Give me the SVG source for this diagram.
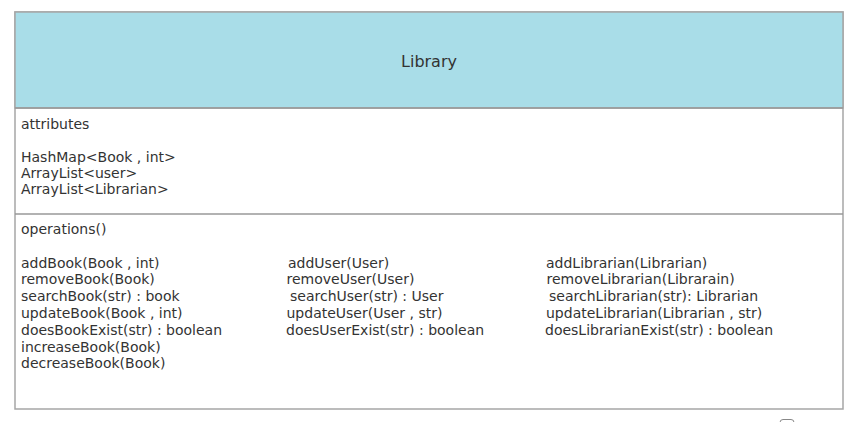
<svg xmlns="http://www.w3.org/2000/svg" width="854" height="422" viewBox="0 0 854 422">
<style>
.t{font-family:"DejaVu Sans","Liberation Sans",sans-serif;font-size:14px;fill:#333;}
.title{font-family:"DejaVu Sans","Liberation Sans",sans-serif;font-size:16px;fill:#333;}
.box{fill:#fff;stroke:#a6a6a6;stroke-width:1.5;}
.div{stroke:#999;stroke-width:1.5;}
</style>
<rect width="854" height="422" fill="#fff"/>
<g id="Library">
<rect class="box" x="15" y="12" width="828" height="397"/>
<rect x="15" y="12" width="828" height="96" fill="#a9dde8" stroke="#a6a6a6" stroke-width="1.5"/>
<line class="div" x1="15" y1="108" x2="843" y2="108"/>
<line class="div" x1="15" y1="214" x2="843" y2="214"/>
<text class="title" x="429" y="67" text-anchor="middle">Library</text>
<text class="t" x="21" y="129">attributes</text>
<text class="t" x="21" y="162">HashMap&lt;Book , int&gt;</text>
<text class="t" x="21" y="178">ArrayList&lt;user&gt;</text>
<text class="t" x="21" y="194">ArrayList&lt;Librarian&gt;</text>
<text class="t" x="21" y="234">operations()</text>
<text class="t" x="21" y="267.6">addBook(Book , int)</text>
<text class="t" x="21" y="284.4">removeBook(Book)</text>
<text class="t" x="21" y="301.2">searchBook(str) : book</text>
<text class="t" x="21" y="318">updateBook(Book , int)</text>
<text class="t" x="21" y="334.8">doesBookExist(str) : boolean</text>
<text class="t" x="21" y="351.6">increaseBook(Book)</text>
<text class="t" x="21" y="368.4">decreaseBook(Book)</text>
<text class="t" x="288" y="267.6">addUser(User)</text>
<text class="t" x="286.5" y="284.4">removeUser(User)</text>
<text class="t" x="290" y="301.2">searchUser(str) : User</text>
<text class="t" x="286.5" y="318">updateUser(User , str)</text>
<text class="t" x="286" y="334.8">doesUserExist(str) : boolean</text>
<text class="t" x="546" y="267.6">addLibrarian(Librarian)</text>
<text class="t" x="546.5" y="284.4">removeLibrarian(Librarain)</text>
<text class="t" x="549" y="301.2">searchLibrarian(str): Librarian</text>
<text class="t" x="546" y="318">updateLibrarian(Librarian , str)</text>
<text class="t" x="545" y="334.8">doesLibrarianExist(str) : boolean</text>
</g>
<g id="connectors"></g>
<rect x="780" y="419.5" width="14" height="10" rx="3" fill="#fff" stroke="#888" stroke-width="1"/>
</svg>
